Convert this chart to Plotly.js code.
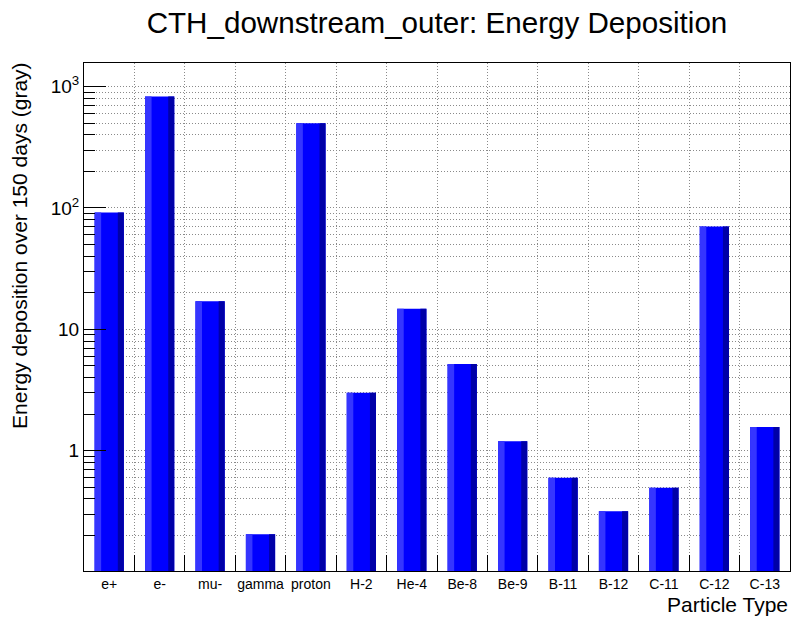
<!DOCTYPE html>
<html>
<head>
<meta charset="utf-8">
<script src="https://cdn.plot.ly/plotly-3.0.1.min.js"></script>
<style>html,body{margin:0;padding:0;background:#fff;}#chart{width:792px;height:618px;}</style>
</head>
<body>
<div id="chart"></div>
<script>
const categories = ["e+", "e-", "mu-", "gamma", "proton", "H-2", "He-4", "Be-8", "Be-9", "B-11", "B-12", "C-11", "C-12", "C-13"];
const energyValues = [92, 828, 17.0, 0.205, 499, 3.0, 14.8, 5.18, 1.195, 0.599, 0.316, 0.495, 70.5, 1.567];
const yTickVals = [1, 10, 100, 1000];
const yTickText = ["1", "10", "10<sup>2</sup>", "10<sup>3</sup>"];

const FONT = "Liberation Sans, Arial, Helvetica, sans-serif";
const barBase = {x: categories, y: energyValues, type: "bar", hoverinfo: "skip", showlegend: false};
const traces = [
  Object.assign({}, barBase, {width: 0.58, offset: -0.29, marker: {color: "#0000ff", line: {width: 0}}}),
  Object.assign({}, barBase, {width: 0.13, offset: -0.29, marker: {color: "#3535ff", line: {width: 0}}}),
  Object.assign({}, barBase, {width: 0.12, offset: 0.17, marker: {color: "#0000a8", line: {width: 0}}})
];

const GRID = "#8a8a8a";
const DASH = "1px,2px";
const layout = {
  width: 792, height: 618,
  margin: {l: 84, r: 2, t: 63, b: 47, autoexpand: false},
  paper_bgcolor: "#fff", plot_bgcolor: "#fff",
  barmode: "overlay",
  font: {family: FONT, color: "#000"},
  title: {text: "CTH_downstream_outer: Energy Deposition", font: {family: FONT, size: 29.6, color: "#000"},
          xref: "paper", x: 0.5, xanchor: "center", yref: "container", y: 0.963, yanchor: "middle"},
  xaxis: {
    type: "category", tickson: "boundaries", tickangle: 0,
    ticks: "inside", ticklen: 16, tickcolor: "#000", tickwidth: 1,
    showgrid: true, gridcolor: GRID, griddash: DASH, gridwidth: 1,
    showline: true, linecolor: "#000", linewidth: 1, mirror: true,
    tickfont: {family: FONT, size: 14, color: "#000"},
    automargin: false,
    range: [-0.5, 13.5], fixedrange: true
  },
  yaxis: {
    type: "log", range: [-0.992, 3.195],
    tickmode: "array", tickvals: yTickVals, ticktext: yTickText,
    ticks: "inside", ticklen: 22, tickcolor: "#000", tickwidth: 1,
    showgrid: true, gridcolor: GRID, griddash: DASH, gridwidth: 1,
    minor: {ticks: "inside", ticklen: 11, tickcolor: "#000", dtick: "D1", showgrid: true, gridcolor: GRID, griddash: DASH},
    showline: true, linecolor: "#000", linewidth: 1, mirror: true,
    tickfont: {family: FONT, size: 19, color: "#000"},
    automargin: false,
    zeroline: false
  },
  annotations: [
    {text: "Energy deposition over 150 days (gray)", textangle: -90, xref: "paper", yref: "paper",
     x: 0, xshift: -64, xanchor: "center", y: 1.005, yanchor: "top", showarrow: false,
     font: {family: FONT, size: 21, color: "#000"}},
    {text: "Particle Type", xref: "paper", yref: "paper", x: 1, xanchor: "right",
     y: 0, yshift: -33, yanchor: "middle", showarrow: false,
     font: {family: FONT, size: 21, color: "#000"}}
  ]
};

Plotly.newPlot("chart", traces, layout, {displayModeBar: false, staticPlot: true});
</script>
</body>
</html>
